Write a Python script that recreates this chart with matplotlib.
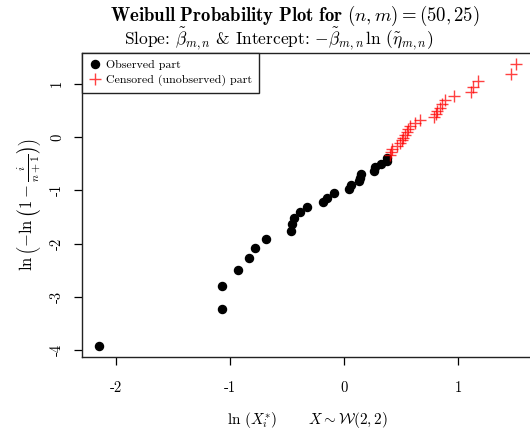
#!/usr/bin/env python3
"""Weibull probability plot, censored sample (n, m) = (50, 25)."""
import matplotlib
matplotlib.use('Agg')
import matplotlib.pyplot as plt

plt.rcParams['font.family'] = 'cmr10'
plt.rcParams['mathtext.fontset'] = 'cm'
plt.rcParams['axes.formatter.use_mathtext'] = True

# observed part (first m = 25 order statistics)
obs_x = [-2.151, -1.071, -1.071, -0.934, -0.835, -0.779, -0.683, -0.464,
         -0.455, -0.438, -0.388, -0.324, -0.187, -0.152, -0.093, 0.044,
         0.061, 0.128, 0.137, 0.149, 0.266, 0.274, 0.321, 0.379, 0.379]
obs_y = [-3.922, -3.219, -2.803, -2.505, -2.271, -2.078, -1.913, -1.768,
         -1.639, -1.522, -1.415, -1.316, -1.223, -1.137, -1.055, -0.977,
         -0.903, -0.832, -0.763, -0.697, -0.634, -0.572, -0.511, -0.453,
         -0.395]

# censored (unobserved) part
cen_x = [0.403, 0.411, 0.417, 0.467, 0.487, 0.505, 0.516, 0.531, 0.549,
         0.563, 0.578, 0.622, 0.662, 0.788, 0.802, 0.817, 0.837, 0.861,
         0.881, 0.963, 1.109, 1.132, 1.173, 1.465, 1.503]
cen_y = [-0.338, -0.283, -0.228, -0.173, -0.120, -0.066, -0.013, 0.041,
         0.094, 0.148, 0.202, 0.257, 0.313, 0.369, 0.428, 0.488, 0.551,
         0.616, 0.686, 0.761, 0.843, 0.934, 1.041, 1.175, 1.369]

x_ticks = [-2, -1, 0, 1]
x_tick_labels = ['-2', '-1', '0', '1']
y_ticks = [-4, -3, -2, -1, 0, 1]
y_tick_labels = ['-4', '-3', '-2', '-1', '0', '1']

fig = plt.figure(figsize=(5.3, 4.3), dpi=100)
ax = fig.add_axes([0.1547, 0.169, 0.851, 0.7085])

ax.plot(obs_x, obs_y, 'o', color='black', markersize=5.8,
        linestyle='none', label='Observed part')
ax.plot(cen_x, cen_y, '+', color='red', markersize=8, markeredgewidth=1.0,
        alpha=0.75, linestyle='none', label='Censored (unobserved) part')

ax.set_xlim(-2.297, 1.655)
ax.set_ylim(-4.134, 1.581)

ax.set_xticks(x_ticks)
ax.set_xticklabels(x_tick_labels, fontsize=10.5)
ax.set_yticks(y_ticks)
ax.set_yticklabels(y_tick_labels, fontsize=10.5, rotation=90, va='center')
ax.tick_params(direction='out', length=6, width=0.9)
ax.tick_params(axis='x', pad=11)
ax.tick_params(axis='y', pad=7)

for side in ['left', 'bottom', 'top', 'right']:
    ax.spines[side].set_linewidth(1.0)
    ax.spines[side].set_color('#222222')

ax.set_ylabel(r'$\ln\left(-\ln\left(1-\frac{i}{n+1}\right)\right)$',
              fontsize=12, labelpad=5)
ax.set_xlabel(r'$\ln\,(X_i^{*})\qquad\ X\sim\mathcal{W}(2,2)$',
              fontsize=11, labelpad=11)

leg = ax.legend(loc='upper left', borderaxespad=0, fancybox=False,
                framealpha=1, edgecolor='#222222', fontsize=8.6,
                handlelength=0.9, handletextpad=0.5, borderpad=0.6,
                labelspacing=0.35)
leg.get_frame().set_linewidth(1.0)

fig.text(0.556, 0.963,
         r'$\mathbf{Weibull\ Probability\ Plot\ for}\ (n,m)=(50,25)$',
         fontsize=13.5, ha='center', va='center')
fig.text(0.526, 0.910,
         r'Slope: $\tilde{\beta}_{m,n}$ & Intercept: '
         r'$-\tilde{\beta}_{m,n}\,\ln\,(\tilde{\eta}_{m,n})$',
         fontsize=12.5, ha='center', va='center')

fig.savefig('out.png', dpi=100, facecolor='white')
plt.close(fig)
